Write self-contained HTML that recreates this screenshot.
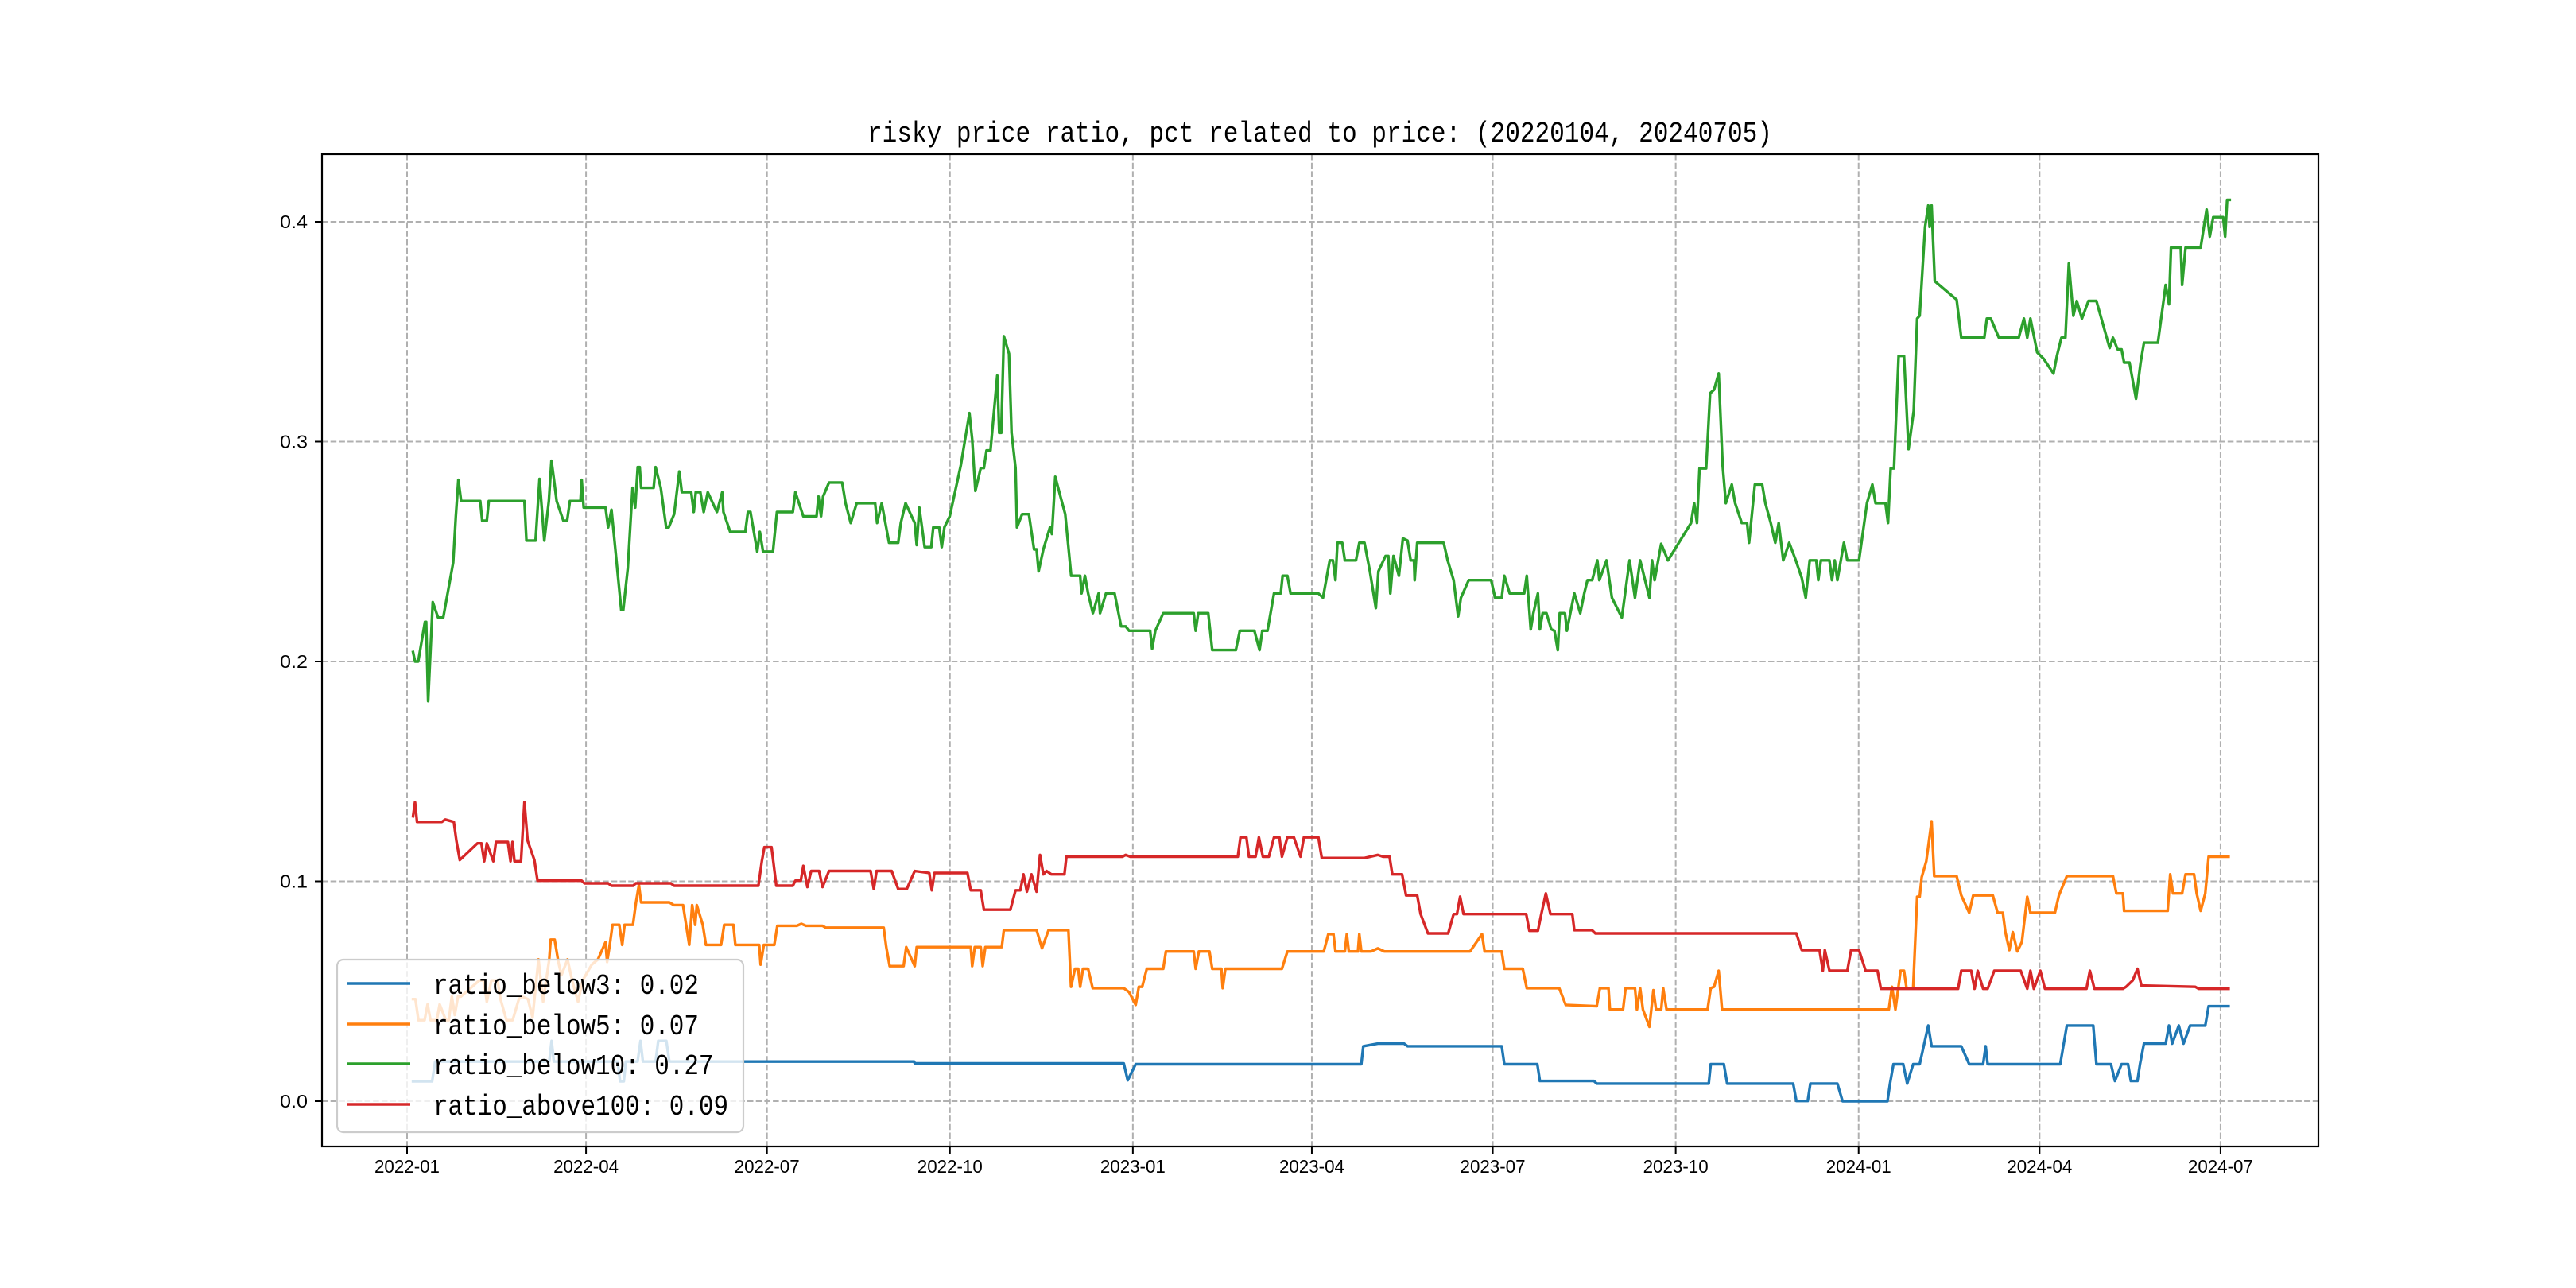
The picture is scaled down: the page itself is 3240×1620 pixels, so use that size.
<!DOCTYPE html>
<html><head><meta charset="utf-8"><title>risky price ratio</title>
<style>html,body{margin:0;padding:0;background:#fff}svg{display:block}</style></head>
<body>
<svg id="chart" xmlns="http://www.w3.org/2000/svg" width="3240" height="1620" viewBox="0 0 3240 1620">
<rect width="3240" height="1620" fill="#fff"/>
<text x="1660" y="178" text-anchor="middle" font-family="'Liberation Mono','Noto Sans CJK SC',monospace" font-size="36" textLength="1138" lengthAdjust="spacingAndGlyphs">risky price ratio, pct related to price: (20220104, 20240705)</text>
<g id="grid"></g>
<g id="ticks"></g>
<g id="series"></g>
<rect x="405" y="194" width="2511" height="1248" fill="none" stroke="#000" stroke-width="2.2"/>
<g id="legend"></g>
</svg>
<script>
// ---- data (day offsets from 2022-01-01) ----
const xTickLabels = ["2022-01","2022-04","2022-07","2022-10","2023-01","2023-04","2023-07","2023-10","2024-01","2024-04","2024-07"];
const xTickDays = [0,90,181,273,365,455,546,638,730,821,912];
const yTickValues = [0.0,0.1,0.2,0.3,0.4];
const yTickLabels = ["0.0","0.1","0.2","0.3","0.4"];
const seriesNames = ["ratio_below3: 0.02","ratio_below5: 0.07","ratio_below10: 0.27","ratio_above100: 0.09"];
const seriesColors = ["#1f77b4","#ff7f0e","#2ca02c","#d62728"];

const below3Days = [3,12.6,14.1,71.5,72.7,73.8,105.9,107.1,109,110,115.9,117.4,118.6,125,126.3,130.4,131.9,255,255.3,360.4,362.4,366.4,479.9,480.9,488.2,501.4,503.1,550.5,551.8,568.4,569.7,596.9,598.3,654.6,655.6,662.2,663.9,697.1,698.7,704.4,705.7,719.3,721.9,744.5,745.8,747.5,752.4,754.4,757.4,760.7,765,766.7,781.6,785.6,792.6,793.9,794.9,831.4,834.7,848,849.6,856.9,858.9,862.2,865.5,866.9,870.2,871.5,873.5,884.4,886.1,887.7,891,893.4,896.7,904.3,906,916];
const below3Vals = [0.009,0.009,0.018,0.018,0.0274,0.018,0.018,0.009,0.009,0.018,0.018,0.0274,0.018,0.018,0.0274,0.0274,0.018,0.018,0.0172,0.0172,0.0095,0.0168,0.0168,0.025,0.0262,0.0262,0.025,0.025,0.0168,0.0168,0.0092,0.0092,0.008,0.008,0.0168,0.0168,0.008,0.008,0.0001,0.0001,0.008,0.008,0.0,0.0,0.008,0.0168,0.0168,0.008,0.0168,0.0168,0.0344,0.025,0.025,0.0168,0.0168,0.025,0.0168,0.0168,0.0344,0.0344,0.0168,0.0168,0.0092,0.0168,0.0168,0.0092,0.0092,0.0168,0.0262,0.0262,0.0344,0.0262,0.0344,0.0262,0.0344,0.0344,0.0432,0.0432];

const below5Days = [3,4.2,5.7,8.8,10.3,11.8,14.9,16.4,19.5,21,22.5,24,25.6,27.1,29.4,36.3,38.6,40.1,42.4,45.5,47,50,53.1,56.2,57.7,60.8,63.1,66.1,68.4,71.5,72.2,74.2,76.1,77.6,80.7,83,86,88.3,89.8,92.9,96,99.8,100.6,102.1,103.3,106.7,108.2,109.4,113.6,115.1,116.6,117.7,131.9,134.2,138.8,141.9,143.4,144.9,145.7,148.7,150.3,157.9,159.5,164.1,165.1,177.1,177.8,179.4,184.7,186.2,196,198.3,200.6,208.9,210.5,239.7,241,242.7,249.7,251,255.3,256.3,283.5,284.2,285.5,288.5,289.5,290.8,299.1,300.1,316.6,319.3,322.6,332.6,333.9,335.9,337.5,338.5,339.9,342.5,344.8,360.4,363.1,366.4,368,369.7,372,380.3,381.6,395.6,396.6,398.2,403.5,404.9,409.5,410.2,411.5,440,442.7,461,463.3,465.9,466.9,471.6,472.6,473.6,478.2,478.9,479.9,484.8,488.2,491.5,534.6,540.6,541.9,550.5,551.8,561.1,563.1,579.4,582.7,598.3,599.9,604.2,604.9,611.5,612.8,617.5,618.5,620.1,621.5,624.8,626.8,628.1,630.7,631.7,633.4,654,655.6,657.3,659.6,661.3,745.2,746.8,748.5,751.1,752.8,754.1,757.4,759.4,760.7,761.7,764,766.7,768,779.3,781.6,785.6,787.6,797.5,799.9,802.5,803.8,805.8,807.5,809.8,812.1,814.8,816.4,828.7,830.7,834.7,857.9,859.6,862.9,863.5,885.4,886.7,888.1,892.7,894.4,898.7,900,902,904.3,906,916];
const below5Vals = [0.0464,0.0464,0.0368,0.0368,0.044,0.0368,0.0368,0.044,0.0368,0.0368,0.0476,0.0392,0.0476,0.0476,0.0494,0.0549,0.0549,0.0452,0.0549,0.0549,0.0464,0.0368,0.0368,0.0464,0.0476,0.0464,0.038,0.0645,0.0452,0.0645,0.0735,0.0735,0.0633,0.0573,0.0645,0.0549,0.0452,0.0549,0.0573,0.0621,0.0645,0.0723,0.0633,0.0723,0.0802,0.0802,0.0711,0.0802,0.0802,0.0904,0.0983,0.0904,0.0904,0.0892,0.0892,0.0711,0.0892,0.0802,0.0892,0.0802,0.0711,0.0711,0.0802,0.0802,0.0711,0.0711,0.0621,0.0711,0.0711,0.0798,0.0798,0.0807,0.0798,0.0798,0.0789,0.0789,0.0701,0.0614,0.0614,0.0701,0.0614,0.0701,0.0701,0.0614,0.0701,0.0701,0.0614,0.0701,0.0701,0.0778,0.0778,0.0695,0.0778,0.0778,0.052,0.0602,0.0602,0.052,0.0602,0.0602,0.0514,0.0514,0.0496,0.0438,0.052,0.052,0.0602,0.0602,0.0681,0.0681,0.0602,0.0681,0.0681,0.0602,0.0602,0.0514,0.0602,0.0602,0.0681,0.0681,0.076,0.076,0.0681,0.0681,0.076,0.0681,0.0681,0.076,0.0681,0.0681,0.0695,0.0681,0.0681,0.076,0.0681,0.0681,0.0602,0.0602,0.0514,0.0514,0.0438,0.0432,0.0514,0.0514,0.0417,0.0417,0.0514,0.0514,0.0417,0.0514,0.0417,0.0338,0.0505,0.0417,0.0417,0.0514,0.0417,0.0417,0.0514,0.052,0.0593,0.0417,0.0417,0.052,0.0417,0.0593,0.0593,0.0514,0.0514,0.093,0.093,0.1018,0.1091,0.1273,0.1024,0.1024,0.0936,0.0857,0.0936,0.0936,0.0857,0.0857,0.0769,0.0687,0.0769,0.0681,0.0725,0.093,0.0857,0.0857,0.0936,0.1024,0.1024,0.0945,0.0945,0.0866,0.0866,0.1032,0.0945,0.0945,0.1032,0.1032,0.0945,0.0866,0.0945,0.1112,0.1112];

const below10Days = [3,4,5.6,9,9.6,10.6,12.9,15.6,18.2,23.2,24.5,25.8,27.2,36.8,37.8,40.1,41.1,59,60,64.6,66.6,69,71.3,72.6,73.9,75.2,78.6,80.5,81.9,87.2,87.8,88.8,99.8,101.1,102.8,107.7,108.7,111,113.4,114.7,116,117,117.7,124,125,127.6,130.3,131.6,134.3,136.9,138.2,142.9,144.2,145.2,147.5,149.2,151.2,155.8,158.5,159.1,162.5,170.1,171.4,172.7,176.1,177.4,179,184,186,194,195.3,199.3,205.9,206.9,208.2,209.2,212.2,218.8,220.5,223.1,226.1,235.4,236.4,238.7,242.4,247,248.3,250.7,255.3,256.3,257.6,260.3,263.6,264.6,267.6,268.9,270.2,272.9,278.5,282.8,284.2,285.8,288.5,290.1,291.4,293.4,296.8,297.8,298.8,300.1,302.7,304,306,306.7,309.3,312.7,315.3,316.6,317.6,320,323.3,324.3,326,328.3,331,334,338.5,339.2,340.9,342.5,344.9,347.8,348.5,351.5,355.8,359.1,361.4,363.1,373.7,374.7,376.3,380.3,395.6,396.6,397.9,402.9,404.9,416.8,418.8,426.1,428.7,430.1,432.7,436,439.4,440.3,442.7,444.3,458.3,460.6,464,465.6,466.9,467.9,470.3,471.6,477.2,478.9,481.5,484.2,487.2,488.5,492.1,493.5,494.5,496.1,498.8,500.8,503.1,504.7,506.4,506.7,508,521.3,523.3,526.3,528.6,530,533.9,545.2,547.2,550.5,551.8,554.5,561.8,563.1,565.1,566.4,568.7,569.7,571.1,573,575.4,577,578.7,579.7,582.3,583.3,585,587,590,592,593.6,596,598.6,599.6,603.2,605.9,610.9,614.8,617.5,620.1,624.8,626.1,627.4,630.7,634.1,645.7,647.3,648.7,650,653.3,655.3,657.3,659.6,661.6,663.2,666.2,667.9,671.2,673.9,674.9,677.8,681.5,683.1,685.8,688.1,689.8,692.1,695.1,698.4,701.4,703.4,705.4,708.7,709.7,711,715.3,716.6,718,719.3,722.6,724.3,730.2,734.2,736.9,738.5,743.5,744.8,746.1,747.8,750.1,752.8,755.1,757.7,759.4,760.7,763.4,765,765.7,766.7,768.3,779.3,781.6,793.2,794.5,796.5,800.5,810.5,813.1,814.8,816.4,819.8,823.1,828,829.7,832,834,835.7,838,839.7,842.3,845.6,849.6,856.2,857.9,860.2,862.2,863.5,866.2,869.5,871.8,873.5,880.5,884.4,886.1,887.1,892,892.7,894.4,902,905,906.6,908.3,913.3,914.3,915.3,916.6];
const below10Vals = [0.2043,0.2,0.2,0.218,0.218,0.182,0.227,0.22,0.22,0.245,0.266,0.2826,0.273,0.273,0.264,0.264,0.273,0.273,0.255,0.255,0.283,0.255,0.273,0.2913,0.2826,0.273,0.264,0.264,0.273,0.273,0.2826,0.27,0.27,0.261,0.269,0.2234,0.2234,0.2424,0.279,0.27,0.2884,0.2884,0.279,0.279,0.2884,0.279,0.261,0.261,0.267,0.2864,0.277,0.277,0.268,0.277,0.277,0.268,0.277,0.268,0.277,0.268,0.259,0.259,0.268,0.268,0.25,0.259,0.25,0.25,0.268,0.268,0.277,0.266,0.266,0.275,0.266,0.275,0.2814,0.2814,0.272,0.263,0.272,0.272,0.263,0.272,0.254,0.254,0.263,0.272,0.263,0.253,0.27,0.252,0.252,0.261,0.261,0.252,0.261,0.266,0.2893,0.313,0.301,0.2776,0.288,0.288,0.296,0.296,0.33,0.304,0.304,0.348,0.34,0.304,0.288,0.261,0.267,0.267,0.251,0.251,0.241,0.251,0.261,0.258,0.284,0.276,0.267,0.239,0.239,0.231,0.239,0.231,0.222,0.231,0.222,0.231,0.231,0.216,0.216,0.214,0.214,0.2058,0.214,0.222,0.222,0.214,0.222,0.222,0.2052,0.2052,0.214,0.214,0.2052,0.214,0.214,0.231,0.231,0.239,0.239,0.231,0.231,0.229,0.246,0.246,0.237,0.254,0.254,0.246,0.246,0.254,0.254,0.241,0.2243,0.241,0.248,0.248,0.231,0.248,0.239,0.256,0.255,0.246,0.246,0.237,0.254,0.254,0.246,0.237,0.2205,0.229,0.237,0.237,0.229,0.229,0.239,0.231,0.231,0.239,0.2146,0.222,0.231,0.2146,0.222,0.222,0.2146,0.214,0.2052,0.222,0.222,0.214,0.222,0.231,0.222,0.231,0.237,0.237,0.246,0.237,0.246,0.229,0.22,0.246,0.229,0.246,0.229,0.246,0.237,0.2535,0.246,0.263,0.272,0.263,0.2878,0.2878,0.322,0.3236,0.331,0.289,0.272,0.2805,0.272,0.263,0.263,0.254,0.2805,0.2805,0.272,0.263,0.254,0.263,0.246,0.254,0.246,0.238,0.229,0.246,0.246,0.237,0.246,0.246,0.237,0.246,0.237,0.254,0.246,0.246,0.272,0.2805,0.272,0.272,0.263,0.2878,0.2878,0.339,0.339,0.2966,0.314,0.356,0.3573,0.3977,0.4074,0.3977,0.4074,0.373,0.3646,0.3473,0.3473,0.356,0.356,0.3473,0.3473,0.356,0.3473,0.356,0.3406,0.3376,0.331,0.339,0.3473,0.3473,0.381,0.3573,0.364,0.356,0.364,0.364,0.3426,0.3473,0.342,0.342,0.336,0.336,0.3195,0.336,0.345,0.345,0.3713,0.3625,0.3883,0.3883,0.3713,0.3883,0.3883,0.4056,0.3933,0.4021,0.4021,0.3933,0.41,0.41];

const above100Days = [3,4,5,17.5,19.2,23.5,24.8,26.5,35.4,37.4,38.8,40.1,43.4,44.7,50.7,52,53,54,57.3,59,60.6,64,65.6,87.8,89.2,101.1,102.8,113.7,115,132.6,134.3,176.7,178.4,179.7,183.3,185.7,194,195.3,198,199.3,201.3,203.2,207.2,208.9,212.2,233.1,234.7,236.1,243.7,247,251.3,255.3,262.6,263.9,265.2,281.8,283.5,288.5,290.1,303.4,306,308.4,310,311.7,314,316.6,318.3,320,321.6,324,330.6,331.6,359.8,361.4,363.7,417.8,419.1,422.1,423.4,426.7,428.4,430.4,433.4,436,438.7,440,442.7,446,449.3,451,458.3,460,481.5,488.2,490.8,494.1,495.5,500.4,502.4,508,509.7,513.4,523.6,526.3,528,529.6,531.3,562.8,564.4,568.7,570.4,572.7,575,586,587,595.9,597.6,698.7,701.4,710.3,712,713,715.3,724.3,726.2,730.2,733.5,739.5,741.2,780,781.6,786.6,788.3,789.9,792.6,794.9,798.2,811.5,814.8,816.4,818.1,821.4,823.7,844.6,846.3,848.6,862.9,864.5,867.8,870.2,872.2,899.3,901,916];
const above100Vals = [0.1296,0.136,0.127,0.127,0.1281,0.127,0.1185,0.1097,0.1173,0.1173,0.1091,0.1173,0.1091,0.1179,0.1179,0.1091,0.1179,0.1091,0.1091,0.136,0.1185,0.1097,0.1003,0.1003,0.0991,0.0991,0.098,0.098,0.0991,0.0991,0.098,0.098,0.1091,0.1155,0.1155,0.098,0.098,0.1003,0.1003,0.107,0.0974,0.1047,0.1047,0.0974,0.1047,0.1047,0.0965,0.1047,0.1047,0.0965,0.0965,0.1047,0.1038,0.0959,0.1038,0.1038,0.0959,0.0959,0.0871,0.0871,0.0959,0.0959,0.1032,0.0953,0.1032,0.0953,0.112,0.1032,0.1047,0.1032,0.1032,0.1112,0.1112,0.112,0.1112,0.1112,0.12,0.12,0.1112,0.1112,0.12,0.1112,0.1112,0.12,0.12,0.1112,0.12,0.12,0.1112,0.12,0.12,0.1106,0.1106,0.112,0.1112,0.1112,0.1032,0.1032,0.0936,0.0936,0.0851,0.0763,0.0763,0.0851,0.0851,0.093,0.0851,0.0851,0.0775,0.0775,0.0851,0.0945,0.0851,0.0851,0.0778,0.0778,0.0763,0.0763,0.0687,0.0687,0.0593,0.0687,0.0593,0.0593,0.0687,0.0687,0.0593,0.0593,0.0511,0.0511,0.0593,0.0593,0.0511,0.0593,0.0511,0.0511,0.0593,0.0593,0.0511,0.0593,0.0511,0.0593,0.0511,0.0511,0.0593,0.0511,0.0511,0.052,0.0549,0.0602,0.0526,0.052,0.0511,0.0511];

// ---- axis functions ----
const PX_PER_DAY = 2.501, X0 = 512;
const Y0 = 1385, PX_PER_UNIT = 2765;
function xScale(day){ return X0 + day*PX_PER_DAY; }
function yScale(v){ return Y0 - v*PX_PER_UNIT; }
const NS = "http://www.w3.org/2000/svg";
function mk(tag, attrs, parent){ const e=document.createElementNS(NS,tag); for(const k in attrs) e.setAttribute(k,attrs[k]); parent.appendChild(e); return e; }

const grid=document.getElementById('grid'), ticks=document.getElementById('ticks');
xTickDays.forEach((d,i)=>{
  const x=xScale(d);
  const gl=mk('line',{x1:x,x2:x,y1:194,y2:1442,stroke:'#b0b0b0','stroke-width':2,'stroke-dasharray':'7.5,3.2'},grid);
  
  
  const tk=mk('line',{x1:x,x2:x,y1:1442,y2:1451,stroke:'#000','stroke-width':2},ticks);
  
  
  const t=mk('text',{x:x,y:1475,'text-anchor':'middle','font-family':"'Liberation Sans',sans-serif",'font-size':23,textLength:82,lengthAdjust:'spacingAndGlyphs'},ticks);
  t.textContent=xTickLabels[i];
  
  
});
yTickValues.forEach((v,i)=>{
  const y=yScale(v);
  const gl=mk('line',{x1:405,x2:2916,y1:y,y2:y,stroke:'#b0b0b0','stroke-width':2,'stroke-dasharray':'7.5,3.2'},grid);
  
  
  const tk=mk('line',{x1:396,x2:405,y1:y,y2:y,stroke:'#000','stroke-width':2},ticks);
  
  
  const t=mk('text',{x:387,y:y+8,'text-anchor':'end','font-family':"'Liberation Sans',sans-serif",'font-size':23,textLength:35,lengthAdjust:'spacingAndGlyphs'},ticks);
  t.textContent=yTickLabels[i];
  
  
});

const seriesG=document.getElementById('series');
const allDays=[below3Days,below5Days,below10Days,above100Days];
const allVals=[below3Vals,below5Vals,below10Vals,above100Vals];
const seriesIds=['ratio-below3-line','ratio-below5-line','ratio-below10-line','ratio-above100-line'];
for(let s=0;s<4;s++){
  const pts=allDays[s].map((d,i)=>xScale(d).toFixed(1)+','+yScale(allVals[s][i]).toFixed(1)).join(' ');
  const pl=mk('polyline',{points:pts,fill:'none',stroke:seriesColors[s],'stroke-width':3.4,'stroke-linejoin':'round','stroke-linecap':'square'},seriesG);
  
  
}

const lg=document.getElementById('legend');
const box=mk('rect',{x:424,y:1207,width:511,height:217,rx:8,fill:'rgba(255,255,255,0.8)',stroke:'#cccccc','stroke-width':2.2},lg);


const rowY=[1237,1288,1338,1389];
for(let s=0;s<4;s++){
  const g=mk('g',{},lg);
  
  
  const ln=mk('line',{x1:437,x2:516,y1:rowY[s],y2:rowY[s],stroke:seriesColors[s],'stroke-width':3.4},g);
  
  
  const t=mk('text',{x:545,y:rowY[s]+13,'font-family':"'Liberation Mono',monospace",'font-size':36,textLength:seriesNames[s].length*18.55,lengthAdjust:'spacingAndGlyphs'},g);
  t.textContent=seriesNames[s];
  
  
}
</script>
</body></html>
